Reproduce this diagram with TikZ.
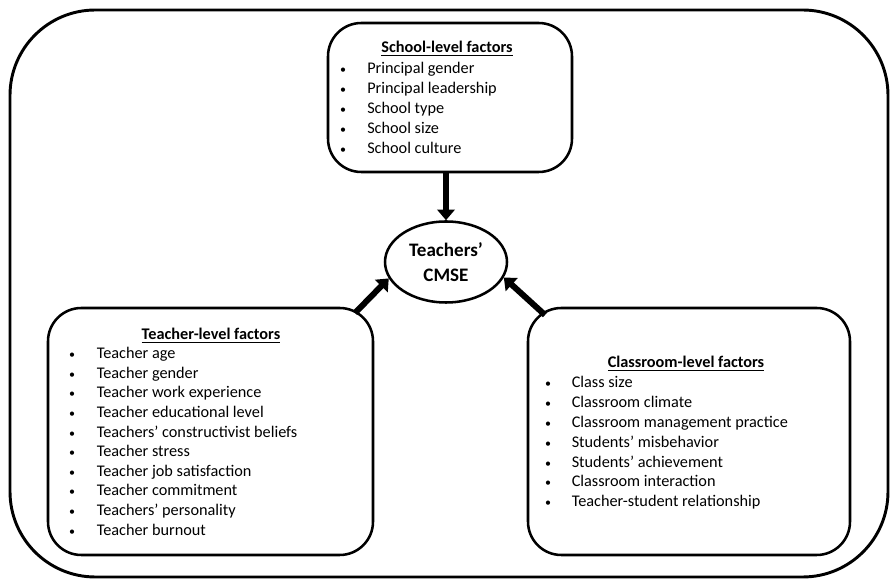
\documentclass[tikz,border=0pt]{standalone}
\usepackage{fontspec}
\setmainfont{Carlito}
\usetikzlibrary{arrows.meta,shapes.geometric}
\begin{document}
\begin{tikzpicture}[x=0.75pt,y=-0.75pt,
  outer/.style={draw,line width=2.2pt,rounded corners=64pt},
  box/.style={draw,line width=1.9pt,rounded corners=25pt,inner sep=0pt},
  cmse/.style={draw,ellipse,line width=1.9pt,inner sep=0pt,minimum width=91.5pt,minimum height=60.75pt,
    align=center,font=\bfseries\fontsize{14.3}{18.75}\selectfont},
  ttl/.style={anchor=base,inner sep=0pt,font=\bfseries\fontsize{12.2}{14}\selectfont},
  itm/.style={anchor=base west,inner sep=0pt,font=\fontsize{12.2}{14}\selectfont},
  bul/.style={anchor=base,inner sep=0pt,font=\fontsize{9}{11}\selectfont},
  arr/.style={line width=4.5pt,-{Triangle[length=8pt,width=13pt]}}]
\useasboundingbox (0,0) rectangle (890,580);
\node[outer,minimum width=658.5pt,minimum height=425.25pt] (frame) at (449,293.5) {};
% boxes
\node[box,minimum width=183pt,minimum height=111.75pt] (school) at (450,97.5) {};
\node[box,minimum width=243.75pt,minimum height=185.25pt] (teacher) at (210.5,431.5) {};
\node[box,minimum width=241.5pt,minimum height=185.25pt] (class) at (689,431.5) {};
\node[cmse] (c) at (446,262) {Teachers’\\CMSE};
% titles
\node[ttl] (st) at (447,53) {\underline{School-level factors}};
\node[ttl] (tt) at (211,340) {\underline{Teacher-level factors}};
\node[ttl] (ct) at (686,368) {\underline{Classroom-level factors}};
% items
\foreach \t [count=\i from 0] in {Principal gender,Principal leadership,School type,School size,School culture}{
  \node[bul] (sb\i) at (343,73.5+19.95*\i) {•};
  \node[itm] (si\i) at (367,73.5+19.95*\i) {\t};
}
\foreach \t [count=\i from 0] in {Teacher age,Teacher gender,Teacher work experience,Teacher educational level,Teachers’ constructivist beliefs,Teacher stress,Teacher job satisfaction,Teacher commitment,Teachers’ personality,Teacher burnout}{
  \node[bul] (tb\i) at (72,358.5+19.63*\i) {•};
  \node[itm] (ti\i) at (96.5,358.5+19.63*\i) {\t};
}
\foreach \t [count=\i from 0] in {Class size,Classroom climate,Classroom management practice,Students’ misbehavior,Students’ achievement,Classroom interaction,Teacher-student relationship}{
  \node[bul] (cb\i) at (548,388+19.8*\i) {•};
  \node[itm] (ci\i) at (571.5,388+19.8*\i) {\t};
}
% arrows
\coordinate (ta) at (355,313);
\coordinate (ca) at (545,315);
\draw[arr] (c.north |- school.south) -- (c.north);
\draw[arr] (ta) -- (c.196);
\draw[arr] (ca) -- (c.-15);
\end{tikzpicture}
\end{document}
